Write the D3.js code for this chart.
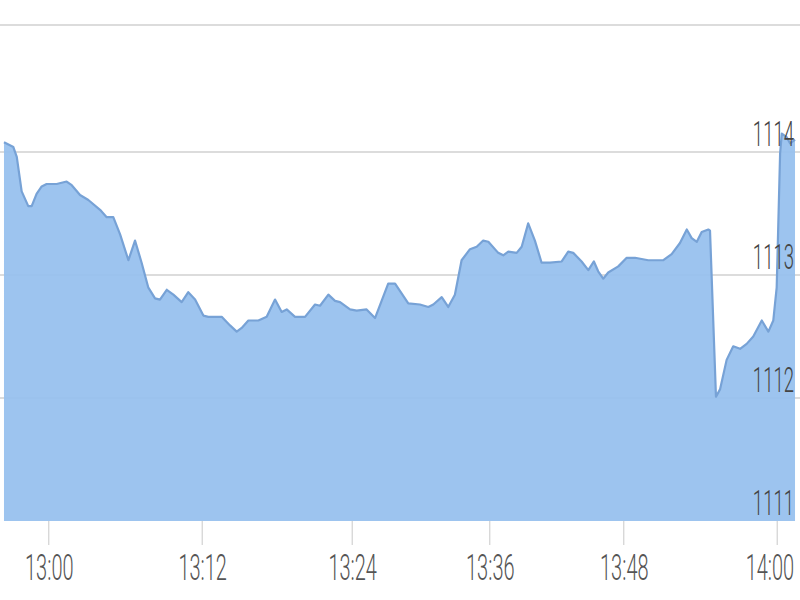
<!DOCTYPE html>
<html>
<head>
<meta charset="utf-8">
<script src="https://cdn.jsdelivr.net/npm/d3@7"></script>
<style>
  html, body { margin: 0; padding: 0; background: #fff; }
  svg { display: block; }
</style>
</head>
<body>
<svg id="chart" width="800" height="600"></svg>
<script>
// ---- data ----
const times = [
  "12:56:32","12:57:16","12:57:32","12:57:55","12:58:26","12:58:42","12:59:05","12:59:29","12:59:52",
  "13:00:39","13:01:26","13:01:50","13:02:29","13:03:08","13:04:03","13:04:34","13:05:05","13:05:37",
  "13:06:16","13:06:47","13:07:18","13:07:49","13:08:21","13:08:44","13:09:16","13:09:47","13:10:26",
  "13:10:57","13:11:29","13:12:08","13:12:32","13:13:36","13:14:16","13:14:48","13:15:12","13:15:44",
  "13:16:32","13:17:12","13:17:52","13:18:24","13:18:48","13:19:28","13:20:16","13:21:04","13:21:28",
  "13:22:08","13:22:40","13:23:04","13:23:52","13:24:26","13:25:18","13:26:02","13:27:11","13:27:47",
  "13:28:56","13:29:57","13:30:41","13:31:07","13:31:51","13:32:25","13:33:00","13:33:35","13:34:19",
  "13:34:54","13:35:28","13:35:55","13:36:48","13:37:15","13:37:42","13:38:27","13:38:54","13:39:29",
  "13:40:05","13:40:41","13:41:26","13:42:29","13:43:04","13:43:31","13:44:16","13:44:52","13:45:22",
  "13:45:45","13:46:12","13:46:39","13:47:33","13:48:16","13:48:55","13:49:57","13:51:08","13:51:47",
  "13:52:26","13:52:58","13:53:21","13:53:45","13:54:08","13:54:39","13:54:47","13:55:15","13:55:34",
  "13:56:05","13:56:36","13:57:08","13:57:39","13:58:10","13:58:50","13:59:21","13:59:44","14:00:00",
  "14:00:16","14:00:24","14:00:47","14:01:03","14:01:26"
];
const prices = [
  1114.08,1114.04,1113.96,1113.68,1113.56,1113.56,1113.66,1113.72,1113.74,
  1113.74,1113.76,1113.73,1113.65,1113.61,1113.53,1113.47,1113.47,1113.33,
  1113.12,1113.28,1113.10,1112.90,1112.81,1112.80,1112.88,1112.84,1112.78,
  1112.86,1112.80,1112.67,1112.66,1112.66,1112.59,1112.54,1112.57,1112.63,
  1112.63,1112.66,1112.80,1112.70,1112.72,1112.66,1112.66,1112.76,1112.75,
  1112.84,1112.79,1112.78,1112.72,1112.71,1112.72,1112.65,1112.93,1112.93,
  1112.77,1112.76,1112.74,1112.76,1112.82,1112.74,1112.84,1113.12,1113.21,
  1113.23,1113.28,1113.27,1113.18,1113.16,1113.19,1113.18,1113.23,1113.42,
  1113.28,1113.10,1113.10,1113.11,1113.19,1113.18,1113.11,1113.04,1113.11,
  1113.03,1112.97,1113.02,1113.07,1113.14,1113.14,1113.12,1113.12,1113.17,
  1113.26,1113.37,1113.30,1113.27,1113.35,1113.37,1113.36,1112.01,1112.07,
  1112.31,1112.42,1112.40,1112.44,1112.50,1112.63,1112.54,1112.63,1112.90,
  1113.99,1114.15,1114.12,1114.07,1114.10
];
const xTickLabels = ["13:00","13:12","13:24","13:36","13:48","14:00"];
const yTickValues = [1111, 1112, 1113, 1114];
const yGridValues = [1112, 1113, 1114, 1115];

// ---- scales ----
const parse = d3.timeParse("%H:%M:%S");
const parseTick = d3.timeParse("%H:%M");
const data = times.map((t, i) => ({ t: parse(t), v: prices[i] }));

const x = d3.scaleTime()
  .domain(xTickLabels.map(parseTick))
  .range([48.3, 201.7, 351.7, 489.3, 623.3, 776.7]);
const y = d3.scaleLinear().domain([1111, 1114]).range([521, 152]);

const svg = d3.select("#chart");

// gridlines
svg.append("g").selectAll("line").data(yGridValues).join("line")
  .attr("x1", 0).attr("x2", 800)
  .attr("y1", d => Math.min(y(d), d === 1115 ? 25 : y(d))).attr("y2", d => Math.min(y(d), d === 1115 ? 25 : y(d)))
  .attr("stroke", "#dcdcdc").attr("stroke-width", 2);

// area
const area = d3.area().x(d => x(d.t)).y0(y(1111)).y1(d => y(d.v));
const line = d3.line().x(d => x(d.t)).y(d => y(d.v));

svg.append("path").datum(data)
  .attr("d", area)
  .attr("fill", "#96c0ee")
  .attr("fill-opacity", 0.93);

svg.append("path").datum(data)
  .attr("d", line)
  .attr("fill", "none")
  .attr("stroke", "#77a2d6")
  .attr("stroke-width", 2.2)
  .attr("stroke-linejoin", "round");

// x axis ticks
const xAxis = d3.axisBottom(x)
  .tickValues(xTickLabels.map(parseTick))
  .tickFormat(d3.timeFormat("%H:%M"))
  .tickSize(24)
  .tickSizeOuter(0);
const gx = svg.append("g").attr("transform", `translate(0,${y(1111)})`).call(xAxis);
gx.select(".domain").remove();
gx.selectAll(".tick line").attr("stroke", "#c8c8c8").attr("stroke-width", 1);
gx.selectAll(".tick text")
  .attr("fill", "#555")
  .attr("font-family", "Roboto, 'DejaVu Sans', sans-serif")
  .attr("font-weight", 300)
  .attr("font-size", 37)
  .attr("dy", 0)
  .attr("y", 0)
  .each(function(d, i, nodes) {
    const last = i === nodes.length - 1;
    d3.select(this)
      .attr("text-anchor", last ? "end" : "middle")
      .attr("transform", last ? "translate(17,59) scale(0.54,1)" : "translate(0.5,59) scale(0.54,1)");
  });

// y axis labels (right, inside)
const yAxis = d3.axisLeft(y)
  .tickValues(yTickValues)
  .tickFormat(d3.format("d"))
  .tickSize(0);
const gy = svg.append("g").attr("transform", "translate(794,0)").call(yAxis);
gy.select(".domain").remove();
gy.selectAll(".tick text")
  .attr("fill", "#444")
  .attr("font-family", "Roboto, 'DejaVu Sans', sans-serif")
  .attr("font-weight", 300)
  .attr("font-size", 35)
  .attr("text-anchor", "end")
  .attr("dy", 0)
  .attr("x", 0)
  .attr("transform", "translate(0,-7) scale(0.53,1)");
</script>
</body>
</html>
